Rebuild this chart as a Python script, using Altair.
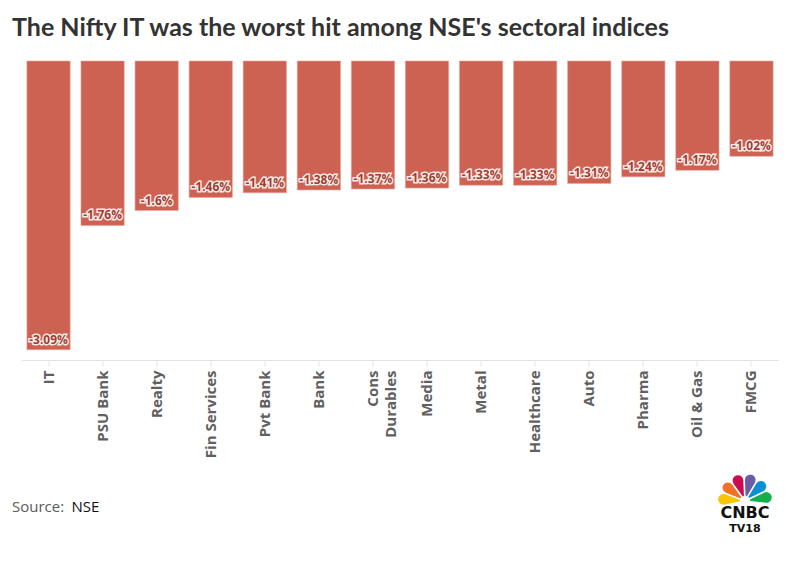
import altair as alt
import pandas as pd

sectors = ["IT", "PSU Bank", "Realty", "Fin Services", "Pvt Bank", "Bank",
           "Cons Durables", "Media", "Metal", "Healthcare", "Auto", "Pharma",
           "Oil & Gas", "FMCG"]
changes = [-3.09, -1.76, -1.6, -1.46, -1.41, -1.38, -1.37, -1.36, -1.33,
           -1.33, -1.31, -1.24, -1.17, -1.02]
labels = [f"{v}%" for v in changes]

logo_colors = ["#f7c600", "#f3702a", "#cc0a52", "#6b5ba8", "#0a8fd6", "#12b04c"]
logo_start = [4.50, 5.08, 5.66, 6.24, 6.82, 7.40]
logo_end = [5.08, 5.66, 6.24, 6.82, 7.40, 7.98]

df = pd.DataFrame({"sector": sectors, "change": changes, "label": labels})
logo_df = pd.DataFrame({"c": logo_colors, "t0": logo_start, "t1": logo_end})
one = pd.DataFrame({"a": [0]})

FONT = "Open Sans"

x = alt.X(
    "sector:N", sort=sectors, title=None,
    scale=alt.Scale(paddingInner=0.2, paddingOuter=0.1),
    axis=alt.Axis(
        labelAngle=270, labelAlign="right", labelBaseline="middle",
        labelFontSize=15, labelFontWeight="bold", labelColor="#606060",
        labelFont=FONT, labelPadding=4, labelLineHeight=18,
        labelExpr="datum.value == 'Cons Durables' ? ['Cons', 'Durables'] : datum.label",
        domainColor="#e3e3e3", tickColor="#e3e3e3", tickSize=6,
        grid=False,
    ),
)
y = alt.Y("change:Q", scale=alt.Scale(domain=[-3.2, 0]), axis=None)

base = alt.Chart(df).encode(x=x, y=y)

bars = base.mark_bar(color="#cd6152", stroke="#e8a598", strokeWidth=0.6)

halo = base.mark_text(
    baseline="bottom", dy=-3, font=FONT, fontSize=12, fontWeight="bold",
    fill="#ffffff", stroke="#ffffff", strokeWidth=3, strokeOpacity=0.85,
).encode(text="label:N")

txt = base.mark_text(
    baseline="bottom", dy=-3, font=FONT, fontSize=12, fontWeight="bold",
    color="#a23b2e",
).encode(text="label:N")

src1 = alt.Chart(one).mark_text(
    align="left", baseline="alphabetic", font=FONT, fontSize=15, color="#5a5a5a",
).encode(x=alt.value(-9.5), y=alt.value(451), text=alt.value("Source:"))

src2 = alt.Chart(one).mark_text(
    align="left", baseline="alphabetic", font=FONT, fontSize=15, color="#111111",
).encode(x=alt.value(50), y=alt.value(451), text=alt.value("NSE"))

fan = alt.Chart(logo_df).mark_arc(
    radius=27, radius2=5, padAngle=0.06, cornerRadius=6,
).encode(
    x=alt.value(723.5), y=alt.value(440),
    theta=alt.Theta("t0:Q", scale=None), theta2="t1:Q",
    color=alt.Color("c:N", scale=None),
)

cnbc = alt.Chart(one).mark_text(
    align="center", baseline="alphabetic", font="DejaVu Sans", fontSize=16,
    fontWeight="bold", color="#111111",
).encode(x=alt.value(723.5), y=alt.value(457), text=alt.value("CNBC"))

tv18 = alt.Chart(one).mark_text(
    align="center", baseline="alphabetic", font="DejaVu Sans", fontSize=11,
    fontWeight="bold", color="#111111",
).encode(x=alt.value(723.5), y=alt.value(471), text=alt.value("TV18"))

chart = alt.layer(bars, halo, txt, src1, src2, fan, cnbc, tv18).properties(
    width=757, height=299,
    background="#ffffff",
    title=alt.TitleParams(
        "The Nifty IT was the worst hit among NSE's sectoral indices",
        anchor="start", frame="group", font="Lato", fontSize=25,
        fontWeight="bold", color="#333333", baseline="alphabetic",
        dx=-9.5, dy=24, offset=24,
    ),
    padding={"left": 13.5, "top": 53, "right": 9, "bottom": 190},
    autosize=alt.AutoSizeParams(type="none"),
).configure_view(stroke=None)

chart.save("out.html", embed_options={"renderer": "svg", "actions": False})
